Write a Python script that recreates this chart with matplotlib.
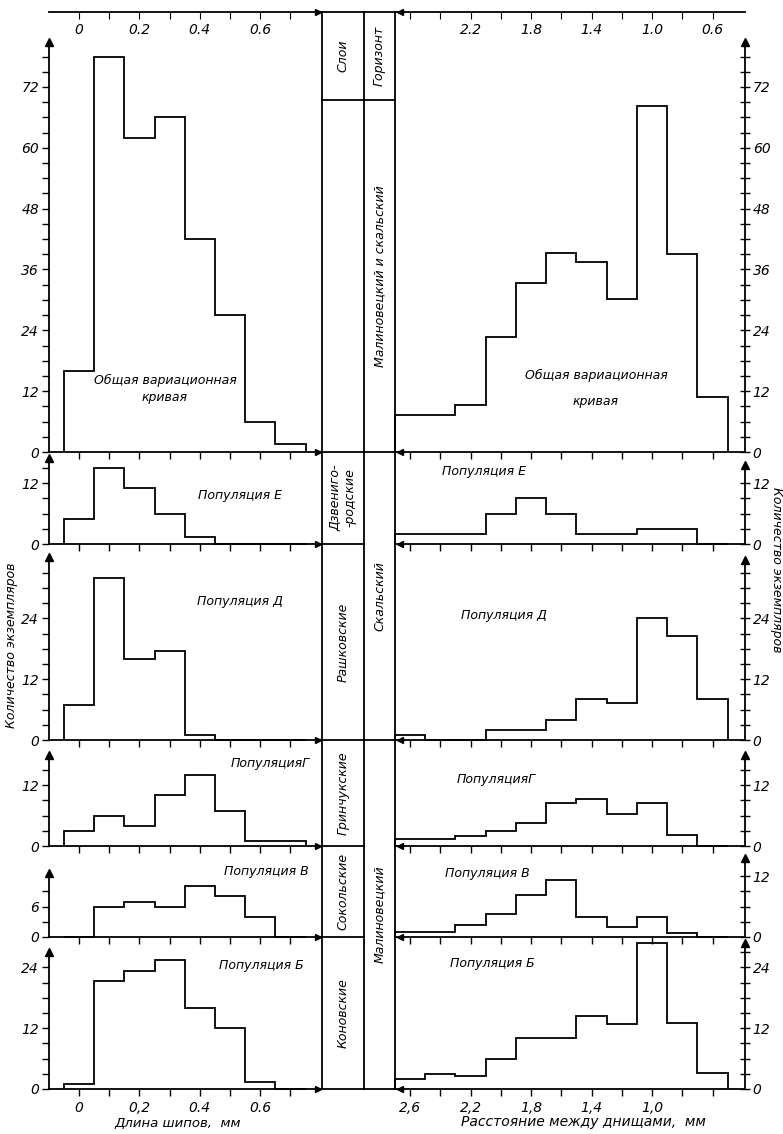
import matplotlib
matplotlib.use("Agg")
import matplotlib.pyplot as plt
import numpy as np

plt.rcParams["font.family"] = ["DejaVu Sans"]
plt.rcParams["font.style"] = "italic"
plt.rcParams["font.size"] = 9

# bin edges: spine length, mm (left) and distance between bottoms, mm (right)
left_edges = [-0.05, 0.05, 0.15, 0.25, 0.35, 0.45, 0.55, 0.65, 0.75]
right_edges = [2.7, 2.5, 2.3, 2.1, 1.9, 1.7, 1.5, 1.3, 1.1, 0.9, 0.7, 0.5]

# counts, top to bottom: general curve, populations Е, Д, Г, В, Б
left_general = [16, 78, 62, 66, 42, 27, 6, 1.5]
left_E = [5, 15, 11, 6, 1.3, 0, 0, 0]
left_D = [7, 32, 16, 17.5, 1, 0, 0, 0]
left_G = [3, 6, 4, 10, 14, 7, 1, 1]
left_V = [0, 6, 7, 6, 10, 8, 4, 0]
left_B = [1, 21.3, 23.2, 25.4, 16, 12, 1.3, 0]

right_general = [7.3, 7.3, 9.3, 22.6, 33.3, 39.2, 37.4, 30.1, 68.3, 39, 10.9]
right_E = [2, 2, 2, 6, 9, 6, 2, 2, 3, 3, 0]
right_D = [1, 0, 0, 2, 2, 4, 8, 7.3, 24, 20.5, 8]
right_G = [1.3, 1.3, 2, 3, 4.5, 8.5, 9.2, 6.3, 8.5, 2.2, 0]
right_V = [1, 1, 2.3, 4.5, 8.3, 11.2, 4, 2, 3.9, 0.8, 0]
right_B = [2, 3, 2.5, 6, 10, 10, 14.3, 12.8, 28.7, 13, 3.1]

left_counts = [left_general, left_E, left_D, left_G, left_V, left_B]
right_counts = [right_general, right_E, right_D, right_G, right_V, right_B]

panel_names = ["Общая вариационная\nкривая", "Популяция Е", "Популяция Д",
               "ПопуляцияГ", "Популяция В", "Популяция Б"]

left_yticks = [[0, 12, 24, 36, 48, 60, 72], [0, 12], [0, 12, 24], [0, 12], [0, 6], [0, 12, 24]]
right_yticks = [[0, 12, 24, 36, 48, 60, 72], [0, 12], [0, 12, 24], [0, 12], [0, 12], [0, 12, 24]]

left_xticks = [0, 0.2, 0.4, 0.6]
left_xminor = [0.1, 0.3, 0.5, 0.7]
left_top_labels = ["0", "0.2", "0.4", "0.6"]
left_bottom_labels = ["0", "0,2", "0.4", "0.6"]

right_xticks = [2.6, 2.2, 1.8, 1.4, 1.0, 0.6]
right_xminor = [2.4, 2.0, 1.6, 1.2, 0.8]
right_top_labels = ["", "2.2", "1.8", "1.4", "1.0", "0.6"]
right_bottom_labels = ["2,6", "2,2", "1,8", "1,4", "1,0", ""]

layers = ["Дзвениго-\n-родские", "Рашковские", "Гринчукские", "Сокольские", "Коновские"]
horizons = ["Малиновецкий и скальский", "Скальский", "Малиновецкий"]

# layout in pixels
W, H = 783, 1134
PPU = 5.07           # px per specimen
L_PPX = 302.0        # px per mm, left
R_PPX = 151.2        # px per mm, right
zero_px = [452, 544, 740, 846, 937, 1089]
top_px = [12, 452, 544, 740, 846, 937]
left_arrow_px = [42, 458, 557, 755, 873, 952]
right_arrow_px = [42, 465, 560, 755, 858, 943]
L_X0, L_X1 = 48.8, 321.7
R_X0, R_X1 = 395.0, 745.0
col_x = [321.7, 364.0, 395.0]
left_text_px = [(165, 389), (240, 495), (240, 602), (270, 763), (266, 872), (261, 965)]
right_text_px = [(596, 388), (484, 472), (504, 616), (496, 780), (487, 873), (492, 963)]

LW = 1.3
TICK_FS = 10

fig = plt.figure(figsize=(W / 100, H / 100), dpi=100)


def rect(x0, x1, y_top, y_bot):
    return [x0 / W, 1 - y_bot / H, (x1 - x0) / W, (y_bot - y_top) / H]


for i in range(6):
    z, t = zero_px[i], top_px[i]
    ymax = (z - t) / PPU

    # ---- left: spine length
    ax = fig.add_axes(rect(L_X0, L_X1, t, z))
    ax.patch.set_visible(False)
    ax.stairs(left_counts[i], left_edges, color="k", lw=LW, baseline=0, clip_on=False)
    xlo, xhi = -0.1, -0.1 + (L_X1 - L_X0) / L_PPX
    ax.set_xlim(xlo, xhi)
    ax.set_ylim(0, ymax)
    top = (z - left_arrow_px[i]) / PPU
    for s in ["top", "right"]:
        ax.spines[s].set_visible(False)
    ax.spines["left"].set_bounds(0, top)
    for s in ["left", "bottom"]:
        ax.spines[s].set_linewidth(LW)
    ax.plot([xlo], [top], marker="^", color="k", ms=6, clip_on=False)
    ax.plot([0.79], [0], marker=">", color="k", ms=5, clip_on=False)
    ax.set_yticks(left_yticks[i])
    ax.set_yticks(np.arange(0, top - 1.5, 3), minor=True)
    ax.set_xticks(left_xticks)
    ax.set_xticks(left_xminor, minor=True)
    ax.tick_params(which="both", direction="out", length=5, width=1, labelsize=TICK_FS, pad=2)
    if i == 5:
        ax.set_xticklabels(left_bottom_labels)
        ax.tick_params(axis="x", pad=4)
    else:
        ax.set_xticklabels([])
    if i == 0:
        sec = ax.secondary_xaxis("top")
        sec.set_xticks(left_xticks + left_xminor)
        sec.tick_params(direction="in", length=5, labeltop=False)
        sec.spines["top"].set_linewidth(LW)
        ax.plot([0.79], [ymax], marker=">", color="k", ms=5, clip_on=False)
        for v, lab in zip(left_xticks, left_top_labels):
            ax.annotate(lab, xy=(v, 1), xycoords=("data", "axes fraction"),
                        xytext=(0, -13), textcoords="offset points",
                        ha="center", va="center", fontsize=TICK_FS)

    # ---- right: distance between bottoms
    ax = fig.add_axes(rect(R_X0, R_X1, t, z))
    ax.patch.set_visible(False)
    ax.stairs(right_counts[i], right_edges, color="k", lw=LW, baseline=0, clip_on=False)
    xlo, xhi = 2.7, 2.7 - (R_X1 - R_X0) / R_PPX
    ax.set_xlim(xlo, xhi)
    ax.set_ylim(0, ymax)
    top = (z - right_arrow_px[i]) / PPU
    for s in ["top", "left"]:
        ax.spines[s].set_visible(False)
    ax.spines["right"].set_bounds(0, top)
    for s in ["right", "bottom"]:
        ax.spines[s].set_linewidth(LW)
    ax.yaxis.tick_right()
    ax.plot([xhi], [top], marker="^", color="k", ms=6, clip_on=False)
    ax.plot([2.665], [0], marker="<", color="k", ms=5, clip_on=False)
    ax.set_yticks(right_yticks[i])
    ax.set_yticks(np.arange(0, top - 1.5, 3), minor=True)
    ax.set_xticks(right_xticks)
    ax.set_xticks(right_xminor, minor=True)
    ax.tick_params(axis="x", which="both", direction="out", length=5, width=1,
                   labelsize=TICK_FS, pad=2)
    ax.tick_params(axis="y", which="both", direction="inout", length=7, width=1,
                   labelsize=TICK_FS, pad=2)
    if i == 5:
        ax.set_xticklabels(right_bottom_labels)
        ax.tick_params(axis="x", pad=4)
    else:
        ax.set_xticklabels([])
    if i == 0:
        sec = ax.secondary_xaxis("top")
        sec.set_xticks(right_xticks + right_xminor)
        sec.tick_params(direction="in", length=5, labeltop=False)
        sec.spines["top"].set_linewidth(LW)
        ax.plot([2.665], [ymax], marker="<", color="k", ms=5, clip_on=False)
        for v, lab in zip(right_xticks, right_top_labels):
            ax.annotate(lab, xy=(v, 1), xycoords=("data", "axes fraction"),
                        xytext=(0, -13), textcoords="offset points",
                        ha="center", va="center", fontsize=TICK_FS)

# overlay in pixel coordinates: strata column, labels
ov = fig.add_axes([0, 0, 1, 1])
ov.set_xlim(0, W)
ov.set_ylim(H, 0)
ov.axis("off")

for x in col_x:
    ov.plot([x, x], [top_px[0], zero_px[-1]], color="k", lw=LW)
for y in [top_px[0], 100, zero_px[0], zero_px[2], zero_px[-1]]:
    ov.plot([col_x[0], col_x[2]], [y, y], color="k", lw=LW)
for y in [zero_px[1], zero_px[3], zero_px[4]]:
    ov.plot([col_x[0], col_x[1]], [y, y], color="k", lw=LW)

cx1 = (col_x[0] + col_x[1]) / 2
cx2 = (col_x[1] + col_x[2]) / 2
ov.text(cx1, 56, "Слои", rotation=90, ha="center", va="center")
ov.text(cx2, 56, "Горизонт", rotation=90, ha="center", va="center")
for k, name in enumerate(layers):
    yc = (top_px[k + 1] + zero_px[k + 1]) / 2
    ov.text(cx1, yc, name, rotation=90, ha="center", va="center", linespacing=1.1)
ov.text(cx2, (100 + zero_px[0]) / 2, horizons[0], rotation=90, ha="center", va="center")
ov.text(cx2, (zero_px[0] + zero_px[2]) / 2, horizons[1], rotation=90, ha="center", va="center")
ov.text(cx2, (zero_px[2] + zero_px[-1]) / 2, horizons[2], rotation=90, ha="center", va="center")

for i, name in enumerate(panel_names):
    x, y = left_text_px[i]
    ov.text(x, y, name, ha="center", va="center", linespacing=1.45)
    x, y = right_text_px[i]
    ov.text(x, y, name, ha="center", va="center", linespacing=2.3)

ov.text(12, 645, "Количество экземпляров", rotation=90, ha="center", va="center")
ov.text(777, 570, "Количество экземпляров", rotation=270, ha="center", va="center")
ov.text(178, 1123, "Длина шипов,  мм", ha="center", va="center", fontsize=9.5)
ov.text(583, 1122, "Расстояние между днищами,  мм", ha="center", va="center", fontsize=10)

fig.savefig("out.png", dpi=100)
